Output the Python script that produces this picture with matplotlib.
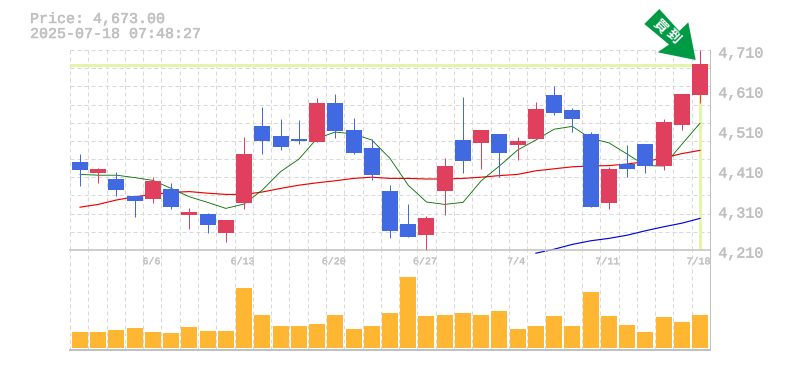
import numpy as np
import matplotlib
matplotlib.use('Agg')
import matplotlib.pyplot as plt
import matplotlib.patheffects as pe
from matplotlib.patches import Polygon
from matplotlib.transforms import ScaledTranslation

# ---------- data ----------
tick_idx = [4, 9, 14, 19, 24, 29, 34]
tick_lab = ['6/6', '6/13', '6/20', '6/27', '7/4', '7/11', '7/18']
price_ticks = [4210, 4310, 4410, 4510, 4610, 4710]
current_price = 4673

opens = [4430, 4402.5, 4387.5, 4345, 4337.5, 4362.5, 4297.5, 4300, 4252.5, 4327.5,
         4520, 4495, 4487.5, 4480, 4577.5, 4510, 4465, 4357.5, 4275, 4247.5,
         4357.5, 4485, 4477.5, 4500, 4472.5, 4487.5, 4597.5, 4560, 4500, 4327.5,
         4425, 4475, 4420, 4522.5, 4597.5]
closes = [4410, 4412.5, 4360, 4332.5, 4382.5, 4317.5, 4305, 4272.5, 4285, 4450,
          4482.5, 4467.5, 4482.5, 4577.5, 4507.5, 4452.5, 4397.5, 4257.5, 4242.5, 4290,
          4420, 4432.5, 4510, 4452.5, 4482.5, 4562.5, 4552.5, 4537.5, 4317.5, 4412.5,
          4412.5, 4420, 4530, 4600, 4675]
highs = [4450, 4415, 4405, 4345, 4392.5, 4377.5, 4315, 4302.5, 4285, 4492.5,
         4567.5, 4537.5, 4535, 4590, 4600, 4540, 4487.5, 4372.5, 4325, 4295,
         4440, 4592.5, 4510, 4500, 4492.5, 4580, 4620, 4565, 4505, 4418,
         4472.5, 4475, 4537.5, 4600, 4710]
lows = [4370, 4377.5, 4345, 4292.5, 4327.5, 4312.5, 4262.5, 4252.5, 4230, 4312.5,
        4450, 4460, 4475, 4480, 4490, 4450, 4385, 4240, 4242.5, 4210,
        4297.5, 4402.5, 4412.5, 4392.5, 4435, 4487.5, 4547.5, 4505, 4317.5, 4312.5,
        4392.5, 4402.5, 4410, 4510, 4577.5]
ma_short = [4399, 4397, 4397, 4391, 4384, 4364, 4343, 4329, 4314, 4325,
            4360, 4406, 4437, 4489, 4505, 4500, 4485, 4439, 4372, 4330,
            4324, 4329, 4383, 4420, 4460, 4485, 4512, 4519, 4489, 4478,
            4450, 4421, 4420, 4474, 4527]
ma_mid = [4317, 4324, 4335, 4343, 4349, 4354, 4356, 4352, 4349, 4349,
          4355, 4364, 4372, 4378, 4383, 4389, 4392, 4389, 4389, 4387.5,
          4387.5, 4389, 4392, 4396, 4399, 4408, 4413, 4418, 4420, 4421,
          4425, 4431, 4440, 4451, 4459]
ma_long_idx = [25, 26, 27, 28, 29, 30, 31, 32, 33, 34]
ma_long = [4202, 4212, 4224, 4233, 4239, 4247, 4258, 4268, 4277, 4289]
volumes = [16, 16, 18, 20, 16, 15, 21, 17, 17, 60, 33, 22, 22, 24, 33, 19, 22, 35,
           71, 32, 33, 35, 33, 37, 19, 22, 32, 22, 56, 32, 23, 16, 31, 26, 33]
header = ['Price: 4,673.00', '2025-07-18 07:48:27']
badge = '買到'

# ---------- styles ----------
W, H = 785, 370
UP, DOWN = '#E0405E', '#4169E1'
GREY = '#c0c0c0'
GRID = '#d8d8d8'
HILITE = '#e4f4a8'
MONO = 'Liberation Mono'
THICK = [pe.withStroke(linewidth=0.35, foreground=GREY)]
THIN = [pe.withStroke(linewidth=0.2, foreground=GREY)]
n = len(opens)
idx = np.arange(n)
PX = 0.72  # one pixel in points at dpi 100
L, R, T, B = 70, 710, 50, 250
VB = 350
xlim = (-10 / 18.235, 34 + 10 / 18.235)

fig = plt.figure(figsize=(W / 100, H / 100), dpi=100, facecolor='white')
ax = fig.add_axes([L / W, 1 - B / H, (R - L) / W, (B - T) / H])
vx = fig.add_axes([L / W, 1 - VB / H, (R - L) / W, (VB - B) / H])
vx.set_facecolor('none')
ax.set_facecolor('none')

grid_x = np.linspace(xlim[0], xlim[1], 36)
for a in (ax, vx):
    a.set_xlim(*xlim)
    a.set_xticks(grid_x, minor=True)
    a.xaxis.remove_overlapping_locs = False
    a.grid(True, which='minor', axis='x', color=GRID, lw=PX,
           linestyle=(0, (4, 3)), zorder=0)
    a.set_axisbelow(True)
    for s in ('left', 'top'):
        a.spines[s].set_visible(False)
    a.spines['right'].set_color(GREY)
    a.spines['right'].set_linewidth(PX)
    a.spines['bottom'].set_color(GREY)
    a.tick_params(which='both', length=0)

# price panel
ax.set_ylim(4210, 4710)
ax.yaxis.tick_right()
ax.set_yticks(price_ticks, [f'{v:,}' for v in price_ticks])
ax.set_yticks(np.linspace(4210, 4710, 12), minor=True)
ax.yaxis.remove_overlapping_locs = False
ax.grid(True, which='minor', axis='y', color=GRID, lw=PX,
        linestyle=(0, (4, 3)), zorder=0)
ax.tick_params(axis='y', which='major', pad=6, labelcolor=GREY, labelsize=10.8)
ax.tick_params(axis='y', which='minor', labelright=False)
for lab in ax.get_yticklabels():
    lab.set_fontfamily(MONO)
    lab.set_path_effects(THICK)
    lab.set_transform(lab.get_transform() + ScaledTranslation(0, -2 / 100, fig.dpi_scale_trans))
ax.set_xticks(tick_idx, tick_lab)
ax.tick_params(axis='x', which='major', pad=4.5, labelcolor=GREY, labelsize=7.2)
for lab in ax.get_xticklabels():
    lab.set_fontfamily(MONO)
    lab.set_path_effects(THIN)
    lab.set_transform(lab.get_transform() + ScaledTranslation(-1.5 / 100, 0, fig.dpi_scale_trans))
ax.spines['bottom'].set_linewidth(PX * 1.5)

ax.axhline(current_price, color=HILITE, lw=PX * 3, zorder=1.5, solid_capstyle='butt')
ax.vlines(idx[-1], 4213, current_price, color=HILITE, lw=PX * 3, zorder=1.5)

ax.plot(idx, ma_mid, color='#ee0000', lw=PX * 1.15, zorder=2)
ax.plot(idx, ma_short, color='#006f00', lw=PX * 0.85, zorder=2.1)
ax.plot(ma_long_idx, ma_long, color='#0000e0', lw=PX * 1.15, zorder=2.2, clip_on=False)

colors = [UP if c >= o else DOWN for o, c in zip(opens, closes)]
ax.vlines(idx, lows, highs, colors=colors, lw=PX, zorder=3)
bottoms = np.minimum(opens, closes)
heights = np.abs(np.array(closes) - np.array(opens))
ax.bar(idx, heights, bottom=bottoms, width=16 / 18.235, color=colors, zorder=3.1,
       linewidth=0, antialiased=False)

# volume panel
vx.set_ylim(-2, 98)
vx.set_yticks([])
vx.set_xticks([])
vx.spines['bottom'].set_linewidth(PX * 2)
vx.bar(idx, volumes, width=16 / 18.235, color='#FFB733', zorder=3, linewidth=0, antialiased=False)

# header + badge on a full-figure pixel overlay
ov = fig.add_axes([0, 0, 1, 1], facecolor='none')
ov.set_xlim(0, W)
ov.set_ylim(H, 0)
ov.axis('off')
for txt, y in zip(header, (23, 38)):
    ov.text(30, y, txt, family=MONO, fontsize=10.8, color=GREY, ha='left', va='baseline',
            path_effects=THICK)
arrow = [(695.7, 60), (688.3, 22.3), (679.3, 31), (659.3, 9), (644.3, 24), (669, 44.5), (657.7, 52.3)]
ov.add_patch(Polygon(arrow, closed=True, facecolor='#009944', edgecolor='none'))
for ch, (x, y) in zip(badge, [(660.5, 26), (673, 36.5)]):
    ov.text(x, y, ch, family=['Noto Sans CJK JP', 'DejaVu Sans'], fontsize=10, weight='bold',
            color='white', rotation=-45, rotation_mode='anchor', ha='center', va='center')

fig.savefig('out.png', dpi=100)
